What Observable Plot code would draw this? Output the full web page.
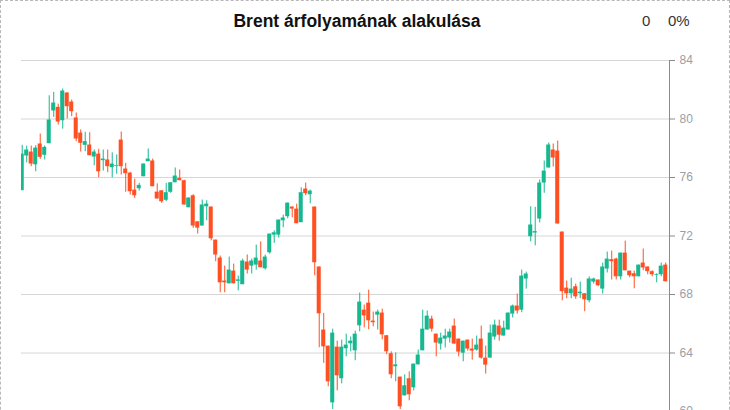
<!DOCTYPE html>
<html>
<head>
<meta charset="utf-8">
<script src="https://cdn.jsdelivr.net/npm/d3@7"></script>
<script src="https://cdn.jsdelivr.net/npm/@observablehq/plot@0.6"></script>
<style>
  html, body { margin: 0; padding: 0; background: #fff; overflow: hidden; }
  #wrap { position: relative; width: 730px; height: 480px; box-sizing: border-box; border: 1px dashed #b8b8b8; font-family: "Liberation Sans", Arial, sans-serif; }
  #title { position: absolute; left: 0; width: 712px; top: 10px; text-align: center; font-size: 17.5px; font-weight: bold; color: #111; line-height: 20px; }
  #v0 { position: absolute; left: 641px; top: 11px; font-size: 15px; color: #333; line-height: 18px; }
  #vp { position: absolute; left: 667px; top: 11px; font-size: 15px; color: #333; line-height: 18px; }
  #chart { position: absolute; left: 0; top: 40px; }
</style>
</head>
<body>
<div id="wrap">
  <div id="title">Brent árfolyamának alakulása</div>
  <div id="v0">0</div>
  <div id="vp">0%</div>
  <div id="chart"></div>
</div>
<script>
const open = [75.1,77.47,77.74,76.87,78.29,77.52,78.31,80.55,80.8,79.88,81.78,81.16,80.07,79.04,78.2,78.22,77.4,77.6,77.15,77.2,76.67,76.75,78.56,76.58,76.3,75.14,75.23,76.05,77.08,77.13,75.0,75.09,74.44,74.99,75.64,75.94,75.78,73.93,74.75,72.97,72.68,74.0,73.98,71.72,70.49,68.92,68.73,69.6,68.9,68.67,70.22,69.94,70.01,70.29,69.76,70.85,72.06,72.06,73.04,73.32,73.98,73.84,72.91,75.21,74.82,73.98,69.88,65.57,64.47,60.59,64.4,62.24,64.29,64.63,64.15,65.86,66.93,67.41,66.18,66.59,66.73,65.18,63.95,63.06,62.35,61.07,62.24,61.62,63.19,64.15,65.57,66.32,65.29,64.61,64.95,65.02,65.84,64.95,63.99,64.88,64.27,64.2,64.95,63.65,63.65,65.09,65.84,65.16,65.57,66.66,67.21,66.93,69.06,71.95,72.2,73.16,75.62,76.65,77.88,77.81,72.27,68.44,68.05,68.53,68.05,68.05,67.57,68.85,68.99,68.37,69.74,70.38,70.42,69.21,70.83,69.6,69.42,69.21,70.15,69.88,69.56,69.3,69.35,70.01];
const high = [78.2,78.15,78.15,78.17,78.97,78.15,81.59,81.82,81.02,82.05,81.78,81.3,80.41,79.25,79.09,79.06,77.88,77.93,77.88,77.88,77.69,77.54,79.11,76.97,76.35,75.89,75.6,76.92,77.95,77.26,75.57,75.09,75.6,75.64,76.65,76.51,75.82,74.6,74.82,72.97,74.46,74.41,73.98,71.72,70.63,69.94,70.56,70.08,69.26,70.42,70.7,70.42,71.38,71.6,70.7,72.13,72.36,73.09,73.43,74.25,73.98,74.18,75.3,75.62,75.14,73.98,69.88,66.71,64.47,65.63,64.81,64.88,65.29,65.09,65.5,68.1,67.28,68.3,66.8,66.93,67.0,65.18,64.08,64.01,62.35,62.51,62.71,63.24,64.2,66.93,66.87,66.52,65.29,65.36,65.63,65.63,66.32,64.95,64.81,64.88,64.95,65.16,65.84,64.47,65.91,66.25,66.25,66.18,66.73,67.28,68.03,69.67,69.53,74.0,73.96,75.83,77.13,78.36,78.29,78.49,72.27,68.92,69.12,68.71,68.85,68.05,69.21,69.12,68.99,70.15,70.9,70.97,70.49,70.83,71.65,69.6,69.6,70.01,71.11,69.88,69.62,69.42,70.15,70.15];
const low = [75.1,77.0,76.74,76.39,77.24,77.2,78.31,80.11,79.59,79.31,80.0,80.16,78.45,77.74,77.76,77.49,76.8,75.98,76.44,76.33,75.98,76.22,76.17,74.99,74.8,74.57,75.07,76.05,77.08,75.37,74.53,74.23,74.34,74.92,75.64,75.78,74.12,73.93,72.52,72.13,72.68,73.04,71.67,70.24,68.12,68.12,68.73,68.73,68.25,68.67,69.4,69.4,69.67,69.83,69.67,70.76,71.5,71.86,72.56,73.18,73.25,72.84,72.91,74.75,74.2,69.28,64.36,63.29,61.69,60.14,61.41,61.89,63.74,64.08,63.47,65.45,65.72,65.59,65.79,65.57,64.9,63.88,62.24,62.03,60.14,61.07,60.73,61.41,63.19,64.15,65.57,65.43,63.74,64.2,64.34,64.68,64.61,63.74,63.4,64.13,63.51,64.13,63.58,62.56,63.65,64.88,64.81,65.16,65.57,66.39,66.66,66.75,68.37,71.6,71.33,72.89,74.92,76.65,76.72,72.82,67.57,67.71,67.71,67.67,67.71,66.82,67.43,68.71,68.53,68.03,69.47,68.99,68.99,68.99,69.62,69.14,68.39,69.21,69.62,69.35,69.21,68.8,69.21,68.87];
const close = [77.6,77.88,76.92,78.01,77.38,78.06,79.93,81.09,79.79,81.91,80.84,80.5,78.63,78.34,78.45,77.49,77.74,76.39,77.26,76.74,76.92,76.8,76.74,76.26,75.03,74.75,75.46,76.92,77.26,75.37,74.53,74.34,74.96,75.64,76.1,75.78,74.12,74.6,72.68,72.54,74.12,74.18,71.81,70.7,68.8,68.8,69.67,68.73,69.0,70.29,69.67,70.29,70.49,69.83,70.56,72.13,72.22,73.09,73.23,74.25,73.84,72.84,74.96,74.89,75.07,70.17,66.68,64.42,62.03,65.36,62.44,64.4,64.54,64.81,65.29,67.48,66.54,66.2,66.07,66.8,65.24,64.08,62.51,63.19,60.32,61.76,61.14,63.24,63.86,65.63,66.52,65.63,64.68,65.02,65.16,65.43,64.61,64.06,64.81,64.27,64.13,64.54,63.65,63.17,65.36,65.91,65.22,65.7,66.73,67.21,66.87,69.26,69.4,72.75,72.3,75.62,76.44,78.22,77.33,72.82,68.19,68.05,68.37,67.84,68.16,67.64,69.06,69.06,68.6,69.88,70.42,70.24,69.21,70.83,69.62,69.28,69.21,70.01,69.81,69.56,69.35,69.35,69.94,68.87];
const yTicks = [60, 64, 68, 72, 76, 80, 84];

const green = "#17b890";
const red = "#fe5022";
const data = open.map((o, i) => ({i, o, h: high[i], l: low[i], c: close[i]}));
const col = d => d.c >= d.o ? green : red;
const n = data.length;

const chart = Plot.plot({
  width: 728,
  height: 400,
  marginTop: 19,
  marginBottom: 30,
  marginLeft: 20,
  marginRight: 60,
  style: {fontFamily: "'Liberation Sans', Arial, sans-serif", background: "transparent"},
  x: {type: "linear", domain: [-0.16, n - 0.16], axis: null},
  y: {domain: [60, 84], axis: null},
  marks: [
    Plot.gridY(yTicks, {stroke: "#d6d6d6", strokeOpacity: 1}),
    Plot.ruleX(data, {x: "i", y1: "l", y2: "h", stroke: col, strokeWidth: 1, clip: true}),
    Plot.rectY(data, {x1: d => d.i - 0.45, x2: d => d.i + 0.45, y1: "o", y2: "c", fill: col, clip: true}),
    Plot.ruleX([n - 0.16], {stroke: "#8a8a8a", strokeWidth: 1}),
    Plot.axisY(yTicks, {anchor: "right", tickSize: 5, tickPadding: 5, stroke: "#8a8a8a", fill: "#9a9ea6", fontSize: 12, label: null})
  ]
});
document.getElementById("chart").appendChild(chart);
</script>
</body>
</html>
